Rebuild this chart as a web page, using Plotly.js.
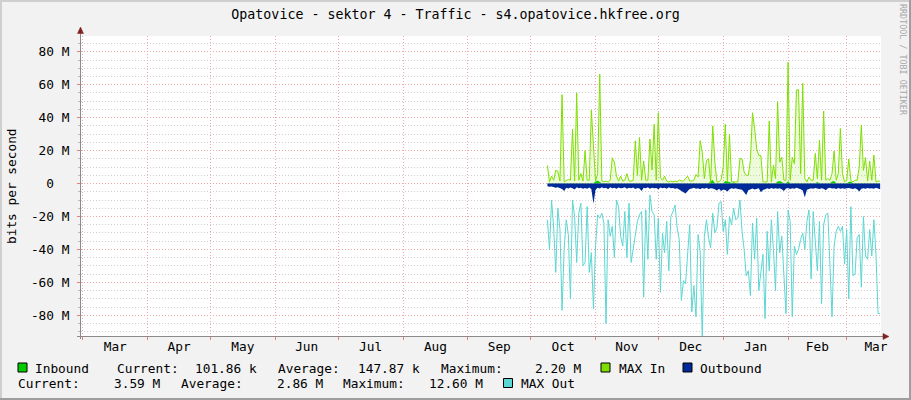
<!DOCTYPE html>
<html>
<head>
<meta charset="utf-8">
<script src="https://cdn.plot.ly/plotly-3.0.1.min.js"></script>
<style>html,body{margin:0;padding:0;background:#F2F2F2;}#chart{width:911px;height:400px;}</style>
</head>
<body>
<div id="chart"></div>
<script>
// ---- data (values in M bits per second, one point per day starting at startDay) ----
const startDay = '2010-10-09';
const xRange = ['2010-02-28 03:22', '2011-03-17 09:36'];

const inbound = [
 0.15,0.10,0.12,0.20,0.15,0.10,0.12,0.15,0.20,0.12,
 0.10,0.15,0.12,0.20,0.15,0.10,0.12,0.15,0.10,0.12,
 0.15,0.12,0.20,1.20,1.80,1.00,0.15,0.12,0.10,0.15,
 0.12,0.20,0.15,0.10,0.12,0.15,0.10,0.12,0.20,0.15,
 0.12,0.10,0.15,0.12,0.20,0.15,0.10,0.12,0.15,0.12,
 0.10,0.15,0.12,0.20,0.15,0.10,0.12,0.15,0.10,0.12,
 0.15,0.12,0.10,0.15,0.12,0.20,0.15,0.10,0.12,0.15,
 0.12,0.10,0.15,0.20,0.15,0.12,0.10,0.15,1.50,2.20,
 0.15,0.12,0.10,0.15,0.12,1.50,1.20,1.00,0.15,0.80,
 0.12,0.10,0.15,0.12,0.20,0.15,0.10,0.12,0.15,0.12,
 0.10,0.15,0.12,0.20,0.15,0.10,0.12,0.15,0.10,0.12,
 1.20,1.50,0.90,0.15,0.12,1.40,0.15,0.10,0.12,0.15,
 0.12,0.10,0.15,0.20,0.15,0.12,0.10,0.15,0.12,1.00,
 0.15,0.12,0.10,0.15,0.12,0.20,1.20,1.50,0.12,0.15,
 0.12,0.10,0.15,0.12,1.00,1.20,0.15,0.10,0.12,0.15,
 0.12,0.10,0.15,0.20,0.15,0.12,0.10,0.15,0.12,0.10
];

const maxIn = [
 11,1,4.5,2,8,7.5,1.5,54,1,2,
 2.5,2,33,1.5,55,2,6,1.5,20,2,
 2,44.6,20,1.5,6,66.5,1.5,1,1.5,1,
 2,15.7,13,4.5,1.5,4.5,1.5,2,6,1.5,
 1.5,2,26,5,28,2,13.7,2,2,27,
 8.2,36,2,43,3.5,2,4.5,1.5,1,1.5,
 1,1.5,1,2.2,1.5,1.5,3,4.5,1.5,1.5,
 2,5.5,4,26,19,3,14,15,0.5,35,
 13,1,1,2.5,10,36,1,30,1,0.8,
 1,1,15.3,15,7,5,5,14,43,33.5,
 21,17,17,1,1,1,38,1,11,3,
 49.7,13,16,2,2,73.6,2,16,12,56.8,
 57,6,60.9,3,1,4,2,2,18.3,3,
 26.4,2,44,2,3,2,6,19.7,2,6,
 33.5,6,1,2,14.9,2,1,2,2,10,
 35.5,8,15.7,1.5,13.7,2,17.3,1,1.5,1.5
];

const outbound = [
 -1.6,-2.0,-1.8,-2.3,-2.6,-2.2,-2.8,-3.3,-4.5,-2.6,
 -3.0,-2.4,-2.8,-3.6,-2.3,-2.9,-2.5,-3.2,-2.7,-3.1,
 -2.4,-3.3,-12.3,-3.8,-2.6,-3.0,-2.3,-2.8,-2.5,-3.4,
 -2.2,-2.8,-2.6,-3.1,-2.4,-2.9,-2.7,-2.3,-3.2,-2.5,
 -2.8,-2.4,-3.3,-2.7,-3.0,-4.5,-2.6,-2.8,-2.3,-3.1,
 -2.5,-2.9,-2.7,-3.4,-2.4,-2.8,-2.6,-3.2,-2.3,-2.9,
 -2.7,-3.1,-2.8,-3.6,-4.0,-5.0,-6.0,-4.6,-3.3,-3.0,
 -2.6,-3.2,-2.8,-3.4,-2.7,-3.1,-2.5,-3.3,-2.8,-3.0,
 -3.4,-4.3,-3.1,-4.6,-3.7,-4.0,-4.8,-3.4,-2.8,-3.2,
 -2.9,-3.3,-3.6,-3.8,-5.3,-7.0,-4.1,-3.4,-3.0,-3.6,
 -3.2,-2.8,-5.3,-4.0,-3.4,-2.9,-3.3,-2.7,-3.1,-2.8,
 -3.2,-2.9,-3.4,-4.6,-3.0,-2.7,-3.3,-2.8,-3.1,-2.6,
 -3.0,-3.4,-4.3,-8.3,-3.8,-3.1,-2.8,-3.2,-2.7,-3.0,
 -3.3,-2.8,-3.1,-4.1,-2.9,-2.6,-3.0,-2.8,-3.3,-2.7,
 -3.1,-2.8,-3.2,-2.9,-2.7,-3.0,-3.3,-2.8,-3.4,-4.8,
 -3.2,-2.8,-3.1,-2.7,-3.0,-2.8,-3.2,-2.6,-2.9,-3.4
];

const maxOut = [
 -22,-40,-10,-27,-54,-15,-28,-77,-40,-22,
 -31,-70,-10,-20,-48,-18,-12,-50,-48,-14,
 -54,-42,-76,-38,-19,-21,-18,-24,-85,-22,
 -32,-26,-45,-10,-14,-32,-38,-17,-45,-12,
 -48,-40,-31,-23,-19,-17,-69,-16,-46,-7,
 -17,-19,-46,-21,-66,-30,-42,-23,-53,-20,
 -17,-13,-27,-34,-71,-59,-61,-40,-25,-78,
 -62,-81,-31,-41,-95,-32,-22,-33,-39,-18,
 -30,-27,-12,-11,-29,-22,-43,-20,-25,-15,
 -22,-21,-10,-29,-40,-56,-53,-68,-24,-46,
 -21,-65,-53,-43,-82,-29,-53,-22,-40,-65,
 -17,-42,-32,-57,-79,-16,-23,-81,-38,-43,
 -40,-34,-30,-40,-23,-16,-58,-17,-38,-53,
 -23,-73,-25,-19,-18,-48,-81,-38,-29,-26,
 -29,-26,-49,-28,-70,-14,-56,-55,-33,-31,
 -63,-20,-44,-46,-28,-44,-22,-43,-79,-79
];

const yTickVals = [-80,-60,-40,-20,0,20,40,60,80];
const yTickText = ['-80 M','-60 M','-40 M','-20 M','0\u00a0\u00a0','20 M','40 M','60 M','80 M'];

const titleText = 'Opatovice - sektor 4 - Traffic - s4.opatovice.hkfree.org';
const yTitle = 'bits per second';
const watermark = 'RRDTOOL / TOBI OETIKER';

const colInbound = '#00CC00', colMaxIn = '#7FE000', colOutbound = '#002A97', colMaxOut = '#5CD6D2';

// legend texts: [text, left px, center px]
const legendTexts = [
 ['Inbound', 35, 368], ['Current:', 116.5, 368], ['101.86 k', 195, 368],
 ['Average:', 278, 368], ['147.87 k', 357.5, 368], ['Maximum:', 440.5, 368],
 ['2.20 M', 535, 368], ['MAX In', 618.5, 368], ['Outbound', 700, 368],
 ['Current:', 18.3, 383.5], ['3.59 M', 114, 383.5], ['Average:', 181, 383.5],
 ['2.86 M', 276.5, 383.5], ['Maximum:', 342.5, 383.5], ['12.60 M', 429, 383.5],
 ['MAX Out', 520.5, 383.5]
];
// legend boxes: [color, left px, top px]
const legendBoxes = [[colInbound, 18, 363], [colMaxIn, 601, 363], [colOutbound, 683, 363], [colMaxOut, 503.5, 378.5]];

// ---- build dates ----
function dayStr(i) {
  const d = new Date(startDay + 'T00:00:00Z');
  d.setUTCDate(d.getUTCDate() + i);
  return d.toISOString().slice(0, 10);
}
const dates = maxIn.map((_, i) => dayStr(i));

// pixel -> paper helpers (plot area 81..881 x 36..336)
const PL = 81, PR = 881, PT = 36, PB = 336;
const px = p => (p - PL) / (PR - PL);
const py = p => (PB - p) / (PB - PT);

const font = 'DejaVu Sans Mono';

const traces = [
  {x: dates, y: inbound, type: 'scatter', mode: 'lines', fill: 'tozeroy',
   fillcolor: colInbound, line: {color: colInbound, width: 0}, hoverinfo: 'skip'},
  {x: dates, y: maxIn, type: 'scatter', mode: 'lines', fill: 'tozeroy',
   fillcolor: 'rgba(127,224,0,0.14)', line: {color: colMaxIn, width: 1}, hoverinfo: 'skip'},
  {x: dates, y: outbound, type: 'scatter', mode: 'lines', fill: 'tozeroy',
   fillcolor: colOutbound, line: {color: colOutbound, width: 0}, hoverinfo: 'skip'},
  {x: dates, y: maxOut, type: 'scatter', mode: 'lines',
   line: {color: colMaxOut, width: 1}, hoverinfo: 'skip'}
];

const shapes = [];
// frame shading
shapes.push({type:'rect', xref:'paper', yref:'paper', x0:px(0), x1:px(911), y0:py(0), y1:py(2), fillcolor:'#CFCFCF', line:{width:0}, layer:'below'});
shapes.push({type:'rect', xref:'paper', yref:'paper', x0:px(0), x1:px(2), y0:py(0), y1:py(400), fillcolor:'#CFCFCF', line:{width:0}, layer:'below'});
shapes.push({type:'rect', xref:'paper', yref:'paper', x0:px(0), x1:px(911), y0:py(398), y1:py(400), fillcolor:'#9E9E9E', line:{width:0}, layer:'below'});
shapes.push({type:'rect', xref:'paper', yref:'paper', x0:px(909), x1:px(911), y0:py(0), y1:py(400), fillcolor:'#9E9E9E', line:{width:0}, layer:'below'});
// axis lines
shapes.push({type:'line', xref:'paper', yref:'paper', x0:px(80.5), x1:px(80.5), y0:py(339), y1:py(30), line:{color:'#8A8A8A', width:1}});
shapes.push({type:'line', xref:'paper', yref:'paper', x0:px(77), x1:px(885), y0:py(336.5), y1:py(336.5), line:{color:'#8A8A8A', width:1}});
// arrows
shapes.push({type:'path', xref:'paper', yref:'paper',
  path:`M ${px(77.5)} ${py(33.5)} L ${px(80.5)} ${py(27)} L ${px(83.5)} ${py(33.5)} Z`,
  fillcolor:'#7F1F1F', line:{color:'#7F1F1F', width:0.5}});
shapes.push({type:'path', xref:'paper', yref:'paper',
  path:`M ${px(883)} ${py(333.5)} L ${px(889)} ${py(336.5)} L ${px(883)} ${py(339.5)} Z`,
  fillcolor:'#7F1F1F', line:{color:'#7F1F1F', width:0.5}});
// legend boxes
legendBoxes.forEach(([c, l, t]) => shapes.push({type:'rect', xref:'paper', yref:'paper',
  x0:px(l), x1:px(l + 9), y0:py(t), y1:py(t + 9), fillcolor:c, line:{color:'#000', width:1}}));

const annotations = [];
annotations.push({text: yTitle, xref:'paper', yref:'paper', x:px(11), y:py(186), textangle:-90,
  showarrow:false, xanchor:'center', yanchor:'middle', font:{family:font, size:12.8, color:'#000'}});
annotations.push({text: watermark, xref:'paper', yref:'paper', x:px(903), y:py(60), textangle:90,
  showarrow:false, xanchor:'center', yanchor:'middle', font:{family:font, size:8.4, color:'#A8A8A8'}});
legendTexts.forEach(([t, l, c]) => annotations.push({text: t, xref:'paper', yref:'paper', x:px(l), y:py(c),
  showarrow:false, xanchor:'left', yanchor:'middle', borderpad:0, borderwidth:0,
  font:{family:font, size:12.8, color:'#000'}}));

const layout = {
  width: 911, height: 400,
  margin: {l: 81, r: 30, t: 36, b: 64, pad: 0},
  paper_bgcolor: '#F2F2F2', plot_bgcolor: '#FFFFFF',
  showlegend: false,
  font: {family: font, size: 12.8, color: '#000'},
  title: {text: titleText, x: 0.5, xref: 'container', xanchor: 'center',
          y: 1 - 14 / 400, yref: 'container', yanchor: 'middle',
          font: {family: font, size: 13.3, color: '#000'}},
  xaxis: {type: 'date', range: xRange, tickmode: 'linear', tick0: '2010-03-01', dtick: 'M1',
          ticklabelmode: 'period', tickformat: '%b',
          showgrid: true, gridcolor: '#EFA8A8', griddash: '1px,2px', gridwidth: 1,
          ticks: 'outside', ticklen: 3, tickcolor: '#E08080', showline: false, zeroline: false,
          ticklabelstandoff: -4, tickfont: {family: font, size: 12.8, color: '#000'}, fixedrange: true},
  yaxis: {range: [-92.6, 89.6], tickmode: 'array', tickvals: yTickVals, ticktext: yTickText,
          showgrid: true, gridcolor: '#EFA8A8', griddash: '1px,2px', gridwidth: 1,
          ticks: 'outside', ticklen: 3, tickcolor: '#E08080', showline: false, zeroline: false,
          ticklabelstandoff: 5, tickfont: {family: font, size: 12.8, color: '#000'}, fixedrange: true,
          minor: {tickmode: 'linear', tick0: 0, dtick: 5, showgrid: true, gridcolor: '#D0D0D0',
                  griddash: '1px,2px', ticks: 'outside', ticklen: 2, tickcolor: '#BBBBBB'}},
  shapes: shapes,
  annotations: annotations
};

Plotly.newPlot('chart', traces, layout, {staticPlot: true, displayModeBar: false});
</script>
</body>
</html>
